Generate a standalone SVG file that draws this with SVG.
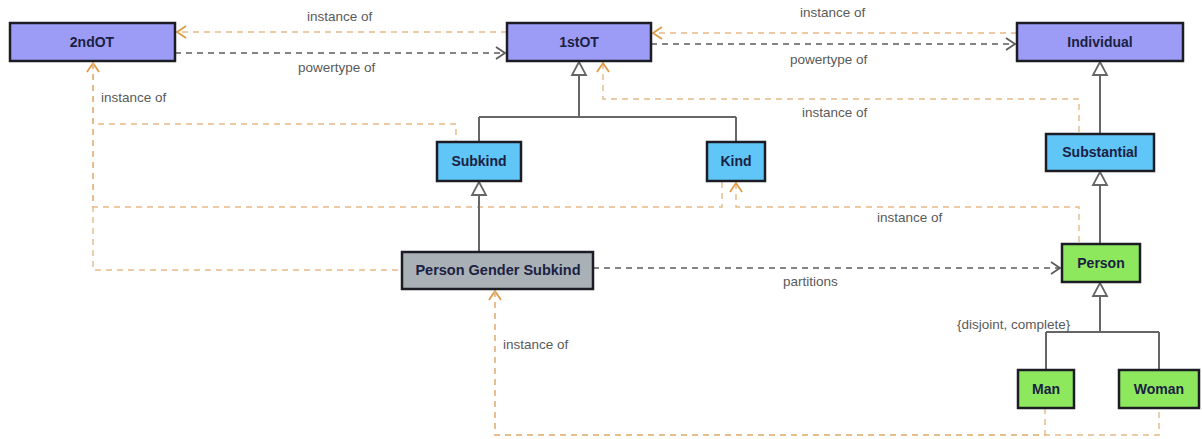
<svg xmlns="http://www.w3.org/2000/svg" width="1202" height="439" viewBox="0 0 1202 439">
  <style>
    .box { stroke: #1c1c24; stroke-width: 2.5; }
    .ot { fill: #9c9cf7; }
    .cat { fill: #60c6f8; }
    .leaf { fill: #8ee85e; }
    .meta { fill: #a9b1b6; }
    .name { font-family: "Liberation Sans", Arial, sans-serif; font-size: 14px; font-weight: bold; fill: #1b2142; text-anchor: middle; }
    .lbl { font-family: "Liberation Sans", Arial, sans-serif; font-size: 13.5px; fill: #5a5a5a; }
    .inst { fill: none; stroke: #e6b985; stroke-width: 1.4; stroke-dasharray: 6 5; }
    .dep { fill: none; stroke: #5c5c5c; stroke-width: 1.6; stroke-dasharray: 6 5; }
    .gen { fill: none; stroke: #666; stroke-width: 2; }
    .tri { fill: #fff; stroke: #666; stroke-width: 1.8; }
  </style>
  <defs>
    <marker id="openOrange" viewBox="-11 -8 13 16" refX="0" refY="0" markerWidth="13" markerHeight="16" markerUnits="userSpaceOnUse" orient="auto-start-reverse">
      <path d="M-9,-6 L0,0 L-9,6" fill="none" stroke="#e09a45" stroke-width="1.8" stroke-dasharray="none"/>
    </marker>
    <marker id="openGray" viewBox="-11 -8 13 16" refX="0" refY="0" markerWidth="13" markerHeight="16" markerUnits="userSpaceOnUse" orient="auto-start-reverse">
      <path d="M-9,-6 L0,0 L-9,6" fill="none" stroke="#5c5c5c" stroke-width="1.8" stroke-dasharray="none"/>
    </marker>
  </defs>

  <rect width="1202" height="439" fill="#ffffff"/>

  <!-- connectors -->
  <g id="connectors">
    <!-- instance-of dependencies -->
    <path class="inst" d="M507,32 L177,32" marker-end="url(#openOrange)"/>
    <path class="inst" d="M1017,33 L653,33" marker-end="url(#openOrange)"/>
    <path class="inst" d="M93,63 L93,124 L456,124 L456,142" marker-start="url(#openOrange)"/>
    <path class="inst" d="M93,63 L93,207 L722,207 L722,181"/>
    <path class="inst" d="M93,63 L93,270 L402,270"/>
    <path class="inst" d="M603,63 L603,99 L1079,99 L1079,134" marker-start="url(#openOrange)"/>
    <path class="inst" d="M736,183 L736,207 L1079,207 L1079,244" marker-start="url(#openOrange)"/>
    <path class="inst" d="M495,291 L495,435 L1159,435 L1159,408" marker-start="url(#openOrange)"/>
    <path class="inst" d="M495,291 L495,435 L1045,435 L1045,408"/>

    <!-- powertype / partitions -->
    <path class="dep" d="M175,53 L505,53" marker-end="url(#openGray)"/>
    <path class="dep" d="M651,44 L1015,44" marker-end="url(#openGray)"/>
    <path class="dep" d="M593,268 L1060,268" marker-end="url(#openGray)"/>

    <!-- generalizations -->
    <path class="gen" d="M579,75 L579,117 M479,117 L736,117 M479,117 L479,142 M736,117 L736,142"/>
    <path class="tri" d="M579,62 L586,75 L572,75 Z"/>
    <path class="gen" d="M1100,75 L1100,134"/>
    <path class="tri" d="M1100,62 L1107,75 L1093,75 Z"/>
    <path class="gen" d="M479,195 L479,252"/>
    <path class="tri" d="M479,182 L486,195 L472,195 Z"/>
    <path class="gen" d="M1100,185 L1100,244"/>
    <path class="tri" d="M1100,172 L1107,185 L1093,185 Z"/>
    <path class="gen" d="M1100,296 L1100,332 M1046,332 L1159,332 M1046,332 L1046,370 M1159,332 L1159,370"/>
    <path class="tri" d="M1100,283 L1107,296 L1093,296 Z"/>

    <!-- connector labels -->
    <text class="lbl" x="307" y="21">instance of</text>
    <text class="lbl" x="298" y="72">powertype of</text>
    <text class="lbl" x="101" y="102">instance of</text>
    <text class="lbl" x="800" y="17">instance of</text>
    <text class="lbl" x="790" y="64">powertype of</text>
    <text class="lbl" x="802" y="117">instance of</text>
    <text class="lbl" x="877" y="222">instance of</text>
    <text class="lbl" x="783" y="286">partitions</text>
    <text class="lbl" x="503" y="349">instance of</text>
    <text class="lbl" x="957" y="329">{disjoint, complete}</text>
  </g>

  <!-- nodes -->
  <g id="node-2ndOT">
    <rect class="box ot" x="10" y="23" width="165" height="38"/>
    <text class="name" x="92" y="47">2ndOT</text>
  </g>
  <g id="node-1stOT">
    <rect class="box ot" x="507" y="23" width="144" height="38"/>
    <text class="name" x="579" y="47">1stOT</text>
  </g>
  <g id="node-Individual">
    <rect class="box ot" x="1017" y="23" width="166" height="38"/>
    <text class="name" x="1100" y="47">Individual</text>
  </g>
  <g id="node-Subkind">
    <rect class="box cat" x="437" y="142" width="84" height="39"/>
    <text class="name" x="479" y="166">Subkind</text>
  </g>
  <g id="node-Kind">
    <rect class="box cat" x="707" y="142" width="58" height="39"/>
    <text class="name" x="736" y="166">Kind</text>
  </g>
  <g id="node-Substantial">
    <rect class="box cat" x="1046" y="134" width="108" height="37"/>
    <text class="name" x="1100" y="157">Substantial</text>
  </g>
  <g id="node-PersonGenderSubkind">
    <rect class="box meta" x="402" y="252" width="191" height="37"/>
    <text class="name" x="498" y="275" style="font-size:14.5px">Person Gender Subkind</text>
  </g>
  <g id="node-Person">
    <rect class="box leaf" x="1062" y="244" width="78" height="38"/>
    <text class="name" x="1101" y="268">Person</text>
  </g>
  <g id="node-Man">
    <rect class="box leaf" x="1018" y="370" width="56" height="38"/>
    <text class="name" x="1046" y="394">Man</text>
  </g>
  <g id="node-Woman">
    <rect class="box leaf" x="1119" y="370" width="80" height="38"/>
    <text class="name" x="1159" y="394">Woman</text>
  </g>
</svg>
